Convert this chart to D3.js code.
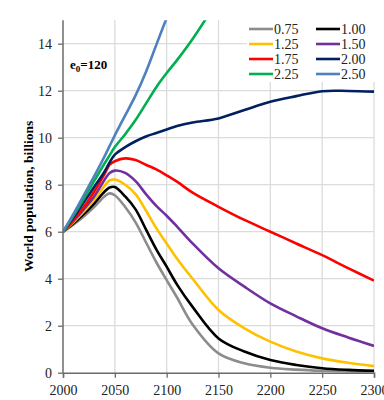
<!DOCTYPE html>
<html>
<head>
<meta charset="utf-8">
<script src="https://cdn.jsdelivr.net/npm/d3@7"></script>
<style>
  body { margin: 0; background: #fff; }
  svg { display: block; }
  svg text { font-family: "Liberation Serif", "Times New Roman", Times, serif; }
</style>
</head>
<body>
<div id="chart"></div>
<script>
// years shared by every series
const years = [2000, 2010, 2020, 2030, 2040, 2045, 2050, 2060, 2070, 2080, 2090,
  2100, 2110, 2125, 2150, 2175, 2200, 2225, 2250, 2275, 2300];

const pop075 = [6.0, 6.3, 6.65, 7.05, 7.5, 7.63, 7.55, 7.05, 6.4, 5.55, 4.7,
  3.94, 3.2, 2.05, 0.82, 0.4, 0.21, 0.13, 0.08, 0.05, 0.03];
const pop100 = [6.0, 6.35, 6.75, 7.2, 7.7, 7.88, 7.9, 7.5, 6.95, 6.1, 5.25,
  4.51, 3.75, 2.8, 1.46, 0.9, 0.54, 0.33, 0.19, 0.12, 0.08];
const pop125 = [6.0, 6.4, 6.85, 7.35, 7.95, 8.18, 8.22, 8.0, 7.6, 6.9, 6.15,
  5.5, 4.85, 4.0, 2.67, 1.89, 1.32, 0.9, 0.61, 0.42, 0.28];
const pop150 = [6.0, 6.45, 6.95, 7.5, 8.2, 8.5, 8.6, 8.5, 8.15, 7.6, 7.1,
  6.68, 6.22, 5.5, 4.44, 3.66, 2.95, 2.4, 1.89, 1.5, 1.14];
const pop175 = [6.0, 6.5, 7.05, 7.7, 8.45, 8.85, 9.0, 9.12, 9.05, 8.85, 8.65,
  8.4, 8.13, 7.66, 7.06, 6.5, 6.0, 5.5, 5.0, 4.45, 3.92];
const pop200 = [6.0, 6.6, 7.25, 7.9, 8.55, 8.95, 9.28, 9.6, 9.85, 10.05, 10.2,
  10.35, 10.5, 10.65, 10.82, 11.18, 11.53, 11.77, 11.98, 11.99, 11.96];
const pop225 = [6.0, 6.68, 7.4, 8.15, 8.9, 9.25, 9.6, 10.15, 10.75, 11.45, 12.15,
  12.75, 13.3, 14.2, 15.9, null, null, null, null, null, null];
const pop250 = [6.0, 6.75, 7.55, 8.35, 9.2, 9.65, 10.1, 10.95, 11.8, 12.8, 13.95,
  15.1, 16.2, null, null, null, null, null, null, null, null];

const seriesNames = ["0.75", "1.00", "1.25", "1.50", "1.75", "2.00", "2.25", "2.50"];
const seriesColors = ["#8c8c8c", "#000000", "#ffc000", "#7030a0", "#ff0000", "#002060", "#00b050", "#4f81bd"];
const seriesValues = [pop075, pop100, pop125, pop150, pop175, pop200, pop225, pop250];

const xTicks = [2000, 2050, 2100, 2150, 2200, 2250, 2300];
const yTicks = [0, 2, 4, 6, 8, 10, 12, 14];

const width = 384, height = 400;
const margins = { top: 20.2, right: 10, bottom: 27.3, left: 63 };
const serif = "'Liberation Serif', 'Times New Roman', Times, serif";

const svg = d3.select("#chart").append("svg")
  .attr("width", width)
  .attr("height", height)
  .attr("font-family", serif);

const x = d3.scaleLinear().domain([2000, 2300]).range([margins.left, width - margins.right]);
const y = d3.scaleLinear().domain([0, 15]).range([height - margins.bottom, margins.top]);

// grid
const gridG = svg.append("g").attr("class", "grid");
gridG.selectAll("line.h")
  .data(yTicks.filter((d) => d > 0))
  .join("line")
  .attr("class", "h")
  .attr("x1", x(2000)).attr("x2", x(2300))
  .attr("y1", (d) => y(d)).attr("y2", (d) => y(d))
  .attr("stroke", "#dcdcdc").attr("stroke-width", 1.3);
gridG.selectAll("line.v")
  .data(xTicks.filter((d) => d > 2000))
  .join("line")
  .attr("class", "v")
  .attr("x1", (d) => x(d)).attr("x2", (d) => x(d))
  .attr("y1", y(0)).attr("y2", y(15))
  .attr("stroke", "#dcdcdc").attr("stroke-width", 1.3);

// lines, clipped to the plot area
svg.append("clipPath").attr("id", "plot-clip")
  .append("rect")
  .attr("x", x(2000)).attr("y", y(15))
  .attr("width", x(2300) - x(2000)).attr("height", y(0) - y(15));

const line = d3.line()
  .defined((d) => d[1] !== null)
  .x((d) => x(d[0]))
  .y((d) => y(d[1]))
  .curve(d3.curveCatmullRom.alpha(0.5));

svg.append("g").attr("clip-path", "url(#plot-clip)")
  .selectAll("path")
  .data(seriesValues.map((vals, i) => ({ name: seriesNames[i], color: seriesColors[i], pts: years.map((yr, j) => [yr, vals[j]]) })))
  .join("path")
  .attr("d", (d) => line(d.pts))
  .attr("fill", "none")
  .attr("stroke", (d) => d.color)
  .attr("stroke-width", 2.6)
  .attr("stroke-linejoin", "round");

// axes
const xAxis = svg.append("g")
  .attr("transform", `translate(0,${y(0)})`)
  .call(d3.axisBottom(x).tickValues(xTicks).tickFormat(d3.format("d")).tickSizeOuter(0).tickSize(5).tickPadding(4));
const yAxis = svg.append("g")
  .attr("transform", `translate(${x(2000)},0)`)
  .call(d3.axisLeft(y).tickValues(yTicks).tickSizeOuter(0).tickSize(5).tickPadding(6));
yAxis.select(".domain").attr("d", `M0,${y(0)}V${y(15)}`);

[xAxis, yAxis].forEach((g) => {
  g.attr("font-family", serif).attr("font-size", 14);
  g.select(".domain").attr("stroke", "#6b6b6b").attr("stroke-width", 1.5);
  g.selectAll(".tick line").attr("stroke", "#6b6b6b").attr("stroke-width", 1.3);
  g.selectAll(".tick text").attr("fill", "#222");
});
xAxis.selectAll(".tick text").attr("dy", "0.95em");

// axis title
svg.append("text")
  .attr("transform", `translate(33,${(y(0) + y(15)) / 2}) rotate(-90)`)
  .attr("text-anchor", "middle")
  .attr("font-size", "13.5px")
  .attr("font-weight", "bold")
  .text("World population, billions");

// e0 label
const eLabel = svg.append("text")
  .attr("x", 70).attr("y", 69)
  .attr("font-size", "13px")
  .attr("font-weight", "bold");
eLabel.append("tspan").text("e");
eLabel.append("tspan").attr("font-size", "9px").attr("dy", 3).text("0");
eLabel.append("tspan").attr("dy", -3).text("=120");

// legend
const legendG = svg.append("g").attr("class", "legend");
legendG.append("rect")
  .attr("x", 247).attr("y", y(15))
  .attr("width", x(2300) - 247 + 1).attr("height", 82 - y(15))
  .attr("fill", "#fff");

const legendItems = legendG.selectAll("g.item")
  .data(seriesNames.map((name, i) => ({ name, color: seriesColors[i], col: i % 2, row: Math.floor(i / 2) })))
  .join("g")
  .attr("class", "item")
  .attr("transform", (d) => `translate(${249 + d.col * 67},${29 + d.row * 15})`);
legendItems.append("line")
  .attr("x1", 0).attr("x2", 24)
  .attr("stroke", (d) => d.color)
  .attr("stroke-width", 2.6);
legendItems.append("text")
  .attr("x", 25).attr("y", 5)
  .attr("font-size", "14px")
  .attr("fill", "#222")
  .text((d) => d.name);
</script>
</body>
</html>
